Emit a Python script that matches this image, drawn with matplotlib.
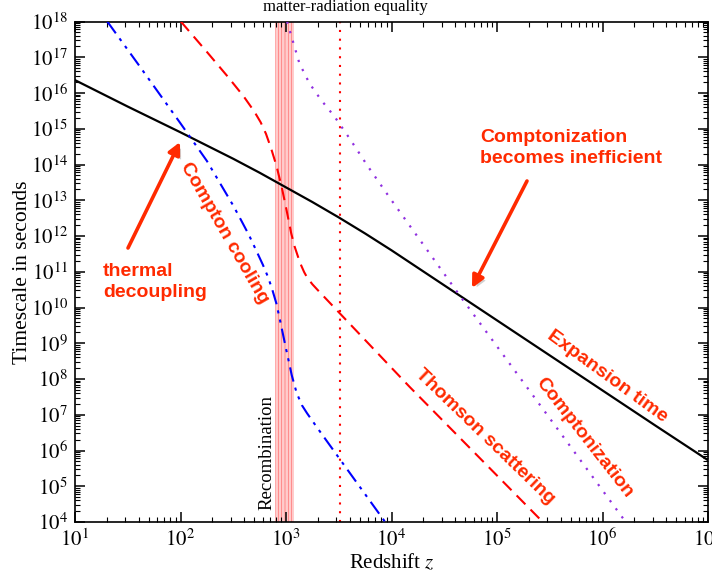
import numpy as np
import matplotlib
matplotlib.use("Agg")
import matplotlib.pyplot as plt
from matplotlib.ticker import LogLocator, FuncFormatter, NullFormatter
import matplotlib.patheffects as pe

# ---------------- data (log10 values) ----------------
# Expansion time (black solid)
exp_logz = [1.0, 1.5, 2.0, 2.5, 2.75, 3.0, 3.25, 3.5, 3.75, 4.0, 4.5, 5.0, 5.5, 6.0, 6.5, 7.0]
exp_logt = [16.36, 15.62, 14.90, 14.16, 13.77, 13.36, 12.95, 12.52, 12.07, 11.60, 10.62, 9.64, 8.66, 7.68, 6.70, 5.73]

# Compton cooling (blue dash-dot-dot)
cc_logz = [1.306, 1.6, 2.0, 2.25, 2.4, 2.5, 2.573, 2.65, 2.72, 2.78, 2.83, 2.87, 2.91, 2.95,
           3.0, 3.055, 3.1, 3.15, 3.2, 3.3, 3.5, 3.94]
cc_logt = [18.0, 16.8, 15.15, 14.1, 13.35, 12.85, 12.45, 12.02, 11.58, 11.2, 10.85, 10.5, 10.1, 9.55,
           8.85, 8.1, 7.62, 7.27, 7.04, 6.62, 5.80, 4.0]

# Thomson scattering (red dashed)
th_logz = [2.003, 2.25, 2.45, 2.6, 2.7, 2.76, 2.81, 2.86, 2.91, 2.96, 3.0, 3.049, 3.08, 3.115,
           3.145, 3.172, 3.2, 3.25, 3.3, 3.504, 4.17, 5.434]
th_logt = [18.0, 17.15, 16.45, 15.9, 15.48, 15.18, 14.86, 14.44, 13.96, 13.36, 12.8, 12.08, 11.72, 11.41,
           11.17, 10.99, 10.84, 10.65, 10.49, 9.855, 7.785, 4.0]

# Comptonization (purple dotted)
cz_logz = [3.01, 3.05, 3.09, 3.127, 3.222, 3.334, 3.46, 3.6, 3.778, 4.0, 4.665, 5.5, 6.22]
cz_logt = [18.0, 17.6, 17.2, 16.83, 16.27, 15.80, 15.34, 14.74, 13.94, 13.0, 10.26, 6.9, 4.0]

z_eq = 3250.0                 # matter-radiation equality
z_rec = (780.0, 1200.0)       # recombination band

xlim = (1e1, 1e7)
ylim = (1e4, 1e18)

ann_red = "#ff2a00"

# ---------------- figure ----------------
plt.rcParams['font.family'] = ['Liberation Serif', 'DejaVu Serif']
plt.rcParams['mathtext.fontset'] = 'stix'
plt.rcParams['hatch.linewidth'] = 0.5

fig = plt.figure(figsize=(7.12, 5.79), dpi=100)
ax = fig.add_axes([75/712, 57/579, 633/712, 500.5/579])
ax.set_xscale('log')
ax.set_yscale('log')
ax.set_xlim(*xlim)
ax.set_ylim(*ylim)

def pw(v):
    return 10 ** np.asarray(v)

# recombination band
ax.axvspan(z_rec[0], z_rec[1], facecolor='#ffcccc', edgecolor='#ff7070',
           hatch='|||||', lw=0, zorder=1)
ax.text(np.sqrt(z_rec[0] * z_rec[1]) * 0.82, 9e5, "Recombination", rotation=90,
        ha='right', va='center', fontsize=13.5, zorder=5)

# matter radiation equality
ax.axvline(z_eq, color='red', lw=1.5, linestyle=(0, (1, 3.2)), zorder=2)
fig.text(345/712, 1 - 7/579, "matter-radiation equality", ha='center', va='center',
         fontsize=12)

ax.plot(pw(exp_logz), pw(exp_logt), color='black', lw=1.6, zorder=4)
ax.plot(pw(cc_logz), pw(cc_logt), color='#0000ff', lw=1.5,
        linestyle=(0, (7, 3, 1.5, 3, 1.5, 3)), zorder=4)
ax.plot(pw(th_logz), pw(th_logt), color='#ff0000', lw=1.5,
        linestyle=(0, (6, 3.5)), zorder=4)
ax.plot(pw(cz_logz), pw(cz_logt), color='#9030e0', lw=1.6,
        linestyle=(0, (1, 3.5)), zorder=4)

# axes styling
for s in ax.spines.values():
    s.set_linewidth(1.2)
ax.xaxis.set_major_locator(LogLocator(base=10, numticks=20))
ax.xaxis.set_minor_locator(LogLocator(base=10, subs=np.arange(2, 10), numticks=100))
ax.yaxis.set_major_locator(LogLocator(base=10, numticks=30))
ax.yaxis.set_minor_locator(LogLocator(base=10, subs=np.arange(2, 10), numticks=200))
fmt = FuncFormatter(lambda v, p: r'$10^{%d}$' % int(round(np.log10(v))))
ax.xaxis.set_major_formatter(fmt)
ax.yaxis.set_major_formatter(fmt)
ax.xaxis.set_minor_formatter(NullFormatter())
ax.yaxis.set_minor_formatter(NullFormatter())
ax.tick_params(which='both', direction='in', top=True, right=True, labelsize=15)
ax.tick_params(which='major', length=7, width=1.1, pad=5)
ax.tick_params(which='minor', length=3.5, width=0.8)

ax.set_xlabel(r"Redshift $z$", fontsize=15, labelpad=1)
ax.set_ylabel("Timescale in seconds", fontsize=15.5, labelpad=-1)

# annotations
afont = dict(family=['Liberation Sans', 'DejaVu Sans'], fontweight='bold',
             color=ann_red, fontsize=14)

def px2data(x, y):
    # pixel (from top-left of figure) -> data coordinates
    fx, fy = x / 712, 1 - y / 579
    disp = fig.transFigure.transform((fx, fy))
    return ax.transData.inverted().transform(disp)

def ptext(x, y, s, rot=0, ha='center', va='center'):
    dx, dy = px2data(x, y)
    ax.text(dx, dy, s, rotation=rot, ha=ha, va=va, rotation_mode='anchor',
            linespacing=1.3, zorder=6, **afont)

def parrow(x0, y0, x1, y1):
    a = ax.annotate("", xy=tuple(px2data(x1, y1)), xytext=tuple(px2data(x0, y0)),
                    arrowprops=dict(arrowstyle='-|>', color=ann_red, lw=2.6,
                                    mutation_scale=18, shrinkA=0, shrinkB=0),
                    zorder=6)
    a.arrow_patch.set_path_effects([
        pe.SimplePatchShadow(offset=(2, -2), shadow_rgbFace='#999999', alpha=0.45),
        pe.Normal()])

ptext(480, 148, "Comptonization\nbecomes inefficient", ha='left')
parrow(527, 181, 472, 288)
ptext(103, 282, "thermal\ndecoupling", ha='left')
parrow(128, 248, 180, 142)
ptext(224, 233, "Compton cooling", rot=-60)
ptext(485, 437, "Thomson scattering", rot=-44)
ptext(584, 438, "Comptonization", rot=-52)
ptext(607, 376, "Expansion time", rot=-36)

fig.savefig("out.png", dpi=100)
